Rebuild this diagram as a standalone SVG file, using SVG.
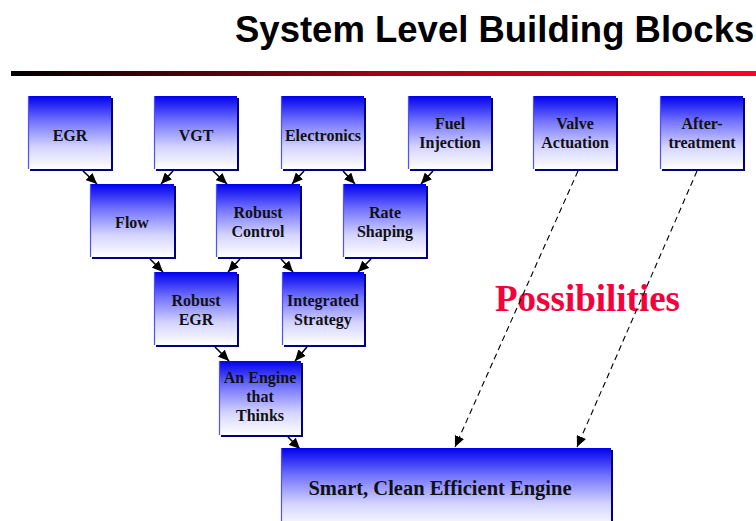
<svg xmlns="http://www.w3.org/2000/svg" width="756" height="521" viewBox="0 0 756 521">
<style>
.lbl{font-family:"Liberation Serif","Times New Roman",serif;font-weight:bold;font-size:16px;fill:#111;text-anchor:middle}
.shadow{fill:#000080}
.box{fill:url(#bg)}
.edge{stroke:#5050ff;stroke-width:1.2}
.conn{stroke:#000;stroke-width:1.6;fill:none;marker-end:url(#ah)}
.dash{stroke:#000;stroke-width:1.1;fill:none;stroke-dasharray:6,4;marker-end:url(#ah)}
</style>
<defs>
<linearGradient id="bg" x1="0" y1="0" x2="0" y2="1">
<stop offset="0" stop-color="#0000ee"/>
<stop offset="0.35" stop-color="#7474ff"/>
<stop offset="0.7" stop-color="#d4d4ff"/>
<stop offset="1" stop-color="#ffffff"/>
</linearGradient>
<linearGradient id="rule" x1="0" y1="0" x2="1" y2="0">
<stop offset="0" stop-color="#000000"/>
<stop offset="0.5" stop-color="#a00018"/>
<stop offset="1" stop-color="#ff0028"/>
</linearGradient>
<marker id="ah" markerUnits="userSpaceOnUse" markerWidth="12" markerHeight="10" refX="11" refY="5" orient="auto">
<path d="M0,0 L11,5 L0,10 z" fill="#000"/>
</marker>
</defs>
<rect width="756" height="521" fill="#fff"/>
<text x="235" y="42" font-family="'Liberation Sans',Arial,sans-serif" font-weight="bold" font-size="36.5" fill="#000">System Level Building Blocks</text>
<rect x="11" y="71" width="745" height="5" fill="url(#rule)"/>
<text x="495" y="311" font-family="'Liberation Serif','Times New Roman',serif" font-weight="bold" font-size="37" fill="#f5003a">Possibilities</text>
<g id="connectors">
<line class="conn" x1="83" y1="171" x2="97" y2="184"/>
<line class="conn" x1="173" y1="171" x2="161" y2="184"/>
<line class="conn" x1="213" y1="171" x2="227" y2="184"/>
<line class="conn" x1="304" y1="171" x2="292" y2="184"/>
<line class="conn" x1="343" y1="171" x2="355" y2="184"/>
<line class="conn" x1="433" y1="171" x2="421" y2="184"/>
<line class="conn" x1="150" y1="259" x2="163" y2="272"/>
<line class="conn" x1="240" y1="259" x2="228" y2="272"/>
<line class="conn" x1="281" y1="259" x2="293" y2="272"/>
<line class="conn" x1="371" y1="259" x2="358" y2="272"/>
<line class="conn" x1="215" y1="347" x2="229" y2="361"/>
<line class="conn" x1="307" y1="347" x2="295" y2="361"/>
<line class="conn" x1="288" y1="437" x2="300" y2="449"/>
<line class="dash" x1="578" y1="171" x2="455" y2="447"/>
<line class="dash" x1="697" y1="171" x2="577" y2="447"/>
</g>
<g id="n-egr"><rect class="shadow" x="30" y="98" width="83" height="73"/><rect class="box" x="28" y="96" width="83" height="73"/><line class="edge" x1="28.5" y1="96" x2="28.5" y2="169"/><text class="lbl" x="70" y="141">EGR</text></g>
<g id="n-vgt"><rect class="shadow" x="156" y="98" width="83" height="73"/><rect class="box" x="154" y="96" width="83" height="73"/><line class="edge" x1="154.5" y1="96" x2="154.5" y2="169"/><text class="lbl" x="196" y="141">VGT</text></g>
<g id="n-electronics"><rect class="shadow" x="283" y="98" width="83" height="73"/><rect class="box" x="281" y="96" width="83" height="73"/><line class="edge" x1="281.5" y1="96" x2="281.5" y2="169"/><text class="lbl" x="323" y="141">Electronics</text></g>
<g id="n-fuel"><rect class="shadow" x="410" y="98" width="83" height="73"/><rect class="box" x="408" y="96" width="83" height="73"/><line class="edge" x1="408.5" y1="96" x2="408.5" y2="169"/><text class="lbl" x="450" y="129">Fuel</text><text class="lbl" x="450" y="148">Injection</text></g>
<g id="n-valve"><rect class="shadow" x="535" y="98" width="83" height="73"/><rect class="box" x="533" y="96" width="83" height="73"/><line class="edge" x1="533.5" y1="96" x2="533.5" y2="169"/><text class="lbl" x="575" y="129">Valve</text><text class="lbl" x="575" y="148">Actuation</text></g>
<g id="n-after"><rect class="shadow" x="662" y="98" width="83" height="73"/><rect class="box" x="660" y="96" width="83" height="73"/><line class="edge" x1="660.5" y1="96" x2="660.5" y2="169"/><text class="lbl" x="702" y="129">After-</text><text class="lbl" x="702" y="148">treatment</text></g>
<g id="n-flow"><rect class="shadow" x="92" y="186" width="84" height="73"/><rect class="box" x="90" y="184" width="84" height="73"/><line class="edge" x1="90.5" y1="184" x2="90.5" y2="257"/><text class="lbl" x="132" y="228">Flow</text></g>
<g id="n-robust-control"><rect class="shadow" x="218" y="186" width="84" height="73"/><rect class="box" x="216" y="184" width="84" height="73"/><line class="edge" x1="216.5" y1="184" x2="216.5" y2="257"/><text class="lbl" x="258" y="218">Robust</text><text class="lbl" x="258" y="237">Control</text></g>
<g id="n-rate"><rect class="shadow" x="345" y="186" width="83" height="73"/><rect class="box" x="343" y="184" width="83" height="73"/><line class="edge" x1="343.5" y1="184" x2="343.5" y2="257"/><text class="lbl" x="385" y="218">Rate</text><text class="lbl" x="385" y="237">Shaping</text></g>
<g id="n-robust-egr"><rect class="shadow" x="156" y="274" width="83" height="73"/><rect class="box" x="154" y="272" width="83" height="73"/><line class="edge" x1="154.5" y1="272" x2="154.5" y2="345"/><text class="lbl" x="196" y="306">Robust</text><text class="lbl" x="196" y="325">EGR</text></g>
<g id="n-integrated"><rect class="shadow" x="284" y="274" width="82" height="73"/><rect class="box" x="282" y="272" width="82" height="73"/><line class="edge" x1="282.5" y1="272" x2="282.5" y2="345"/><text class="lbl" x="323" y="306">Integrated</text><text class="lbl" x="323" y="325">Strategy</text></g>
<g id="n-engine"><rect class="shadow" x="221" y="363" width="82" height="74"/><rect class="box" x="219" y="361" width="82" height="74"/><line class="edge" x1="219.5" y1="361" x2="219.5" y2="435"/><text class="lbl" x="260" y="383">An Engine</text><text class="lbl" x="260" y="402">that</text><text class="lbl" x="260" y="421">Thinks</text></g>
<g id="n-smart"><rect class="shadow" x="283" y="450" width="330" height="80"/><rect class="box" x="281" y="448" width="330" height="80"/><line class="edge" x1="281.5" y1="448" x2="281.5" y2="528"/><text class="lbl" x="440" y="495" style="font-size:20.5px">Smart, Clean Efficient Engine</text></g>
</svg>
